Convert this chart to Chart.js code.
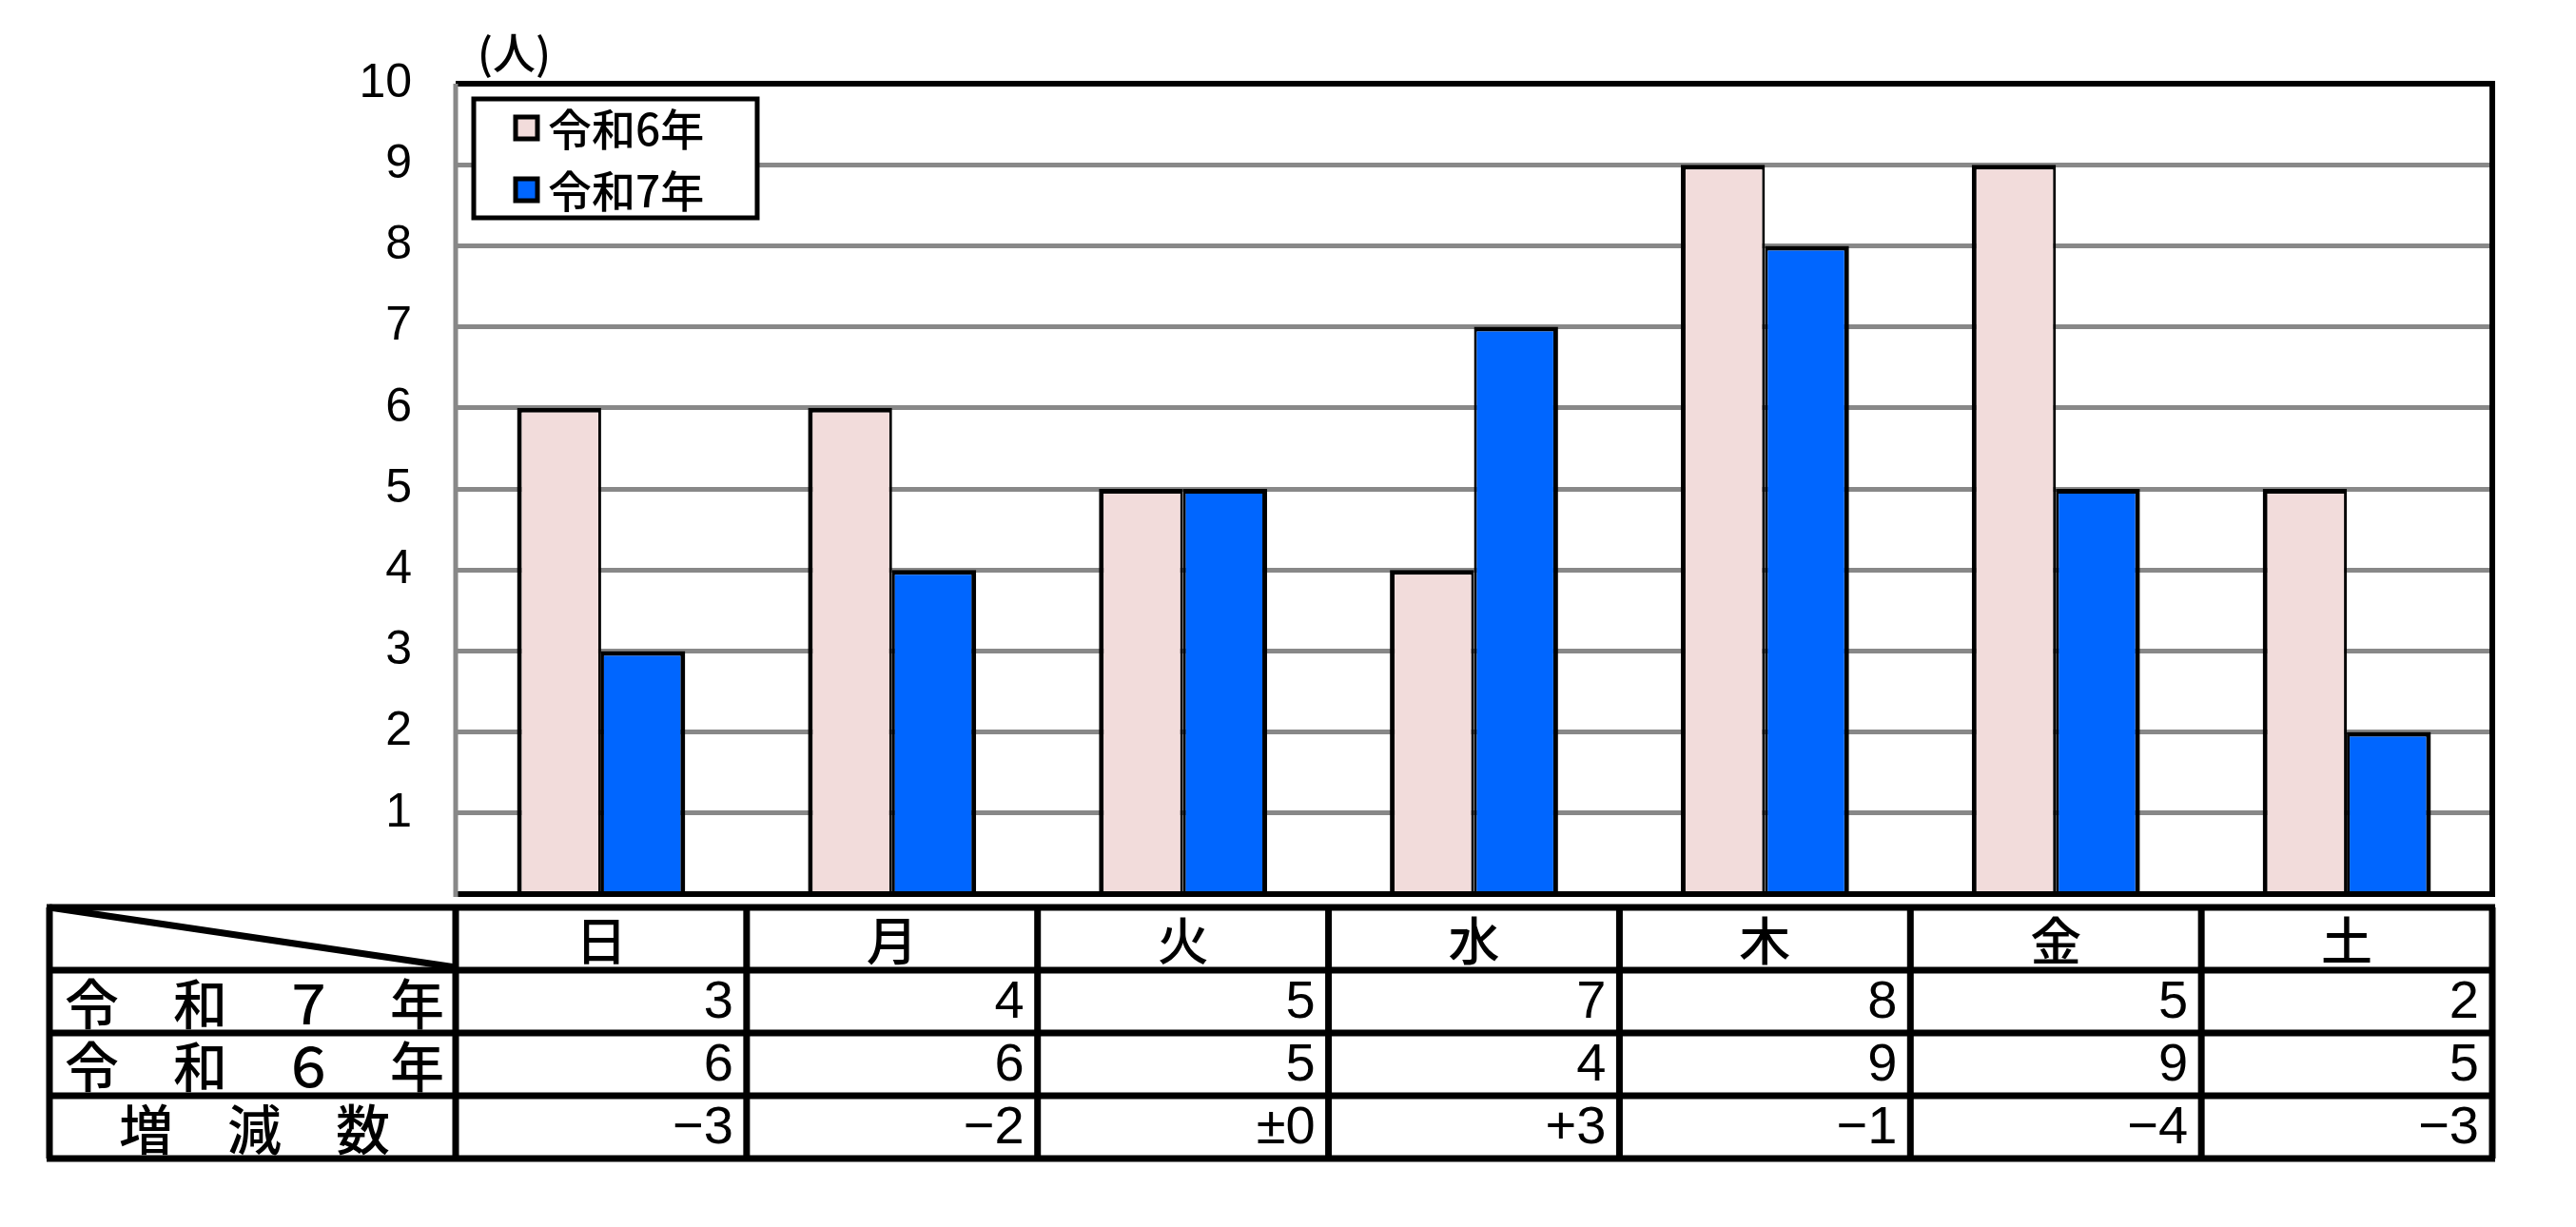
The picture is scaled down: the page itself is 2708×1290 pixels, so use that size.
<!DOCTYPE html>
<html lang="ja">
<head>
<meta charset="UTF-8">
<title>曜日別</title>
<script src="https://cdn.jsdelivr.net/npm/chart.js@4.4.1/dist/chart.umd.min.js"></script>
<style>
  html, body { margin: 0; padding: 0; background: #fff; }
  canvas { display: block; }
</style>
</head>
<body>
<canvas id="chart" width="2708" height="1290"></canvas>
<script>
//DATOS DEL GRAFICO
const dias = ["日", "月", "火", "水", "木", "金", "土"];
const valoresR6 = [6, 6, 5, 4, 9, 9, 5];
const valoresR7 = [3, 4, 5, 7, 8, 5, 2];
const diferencias = ["−3", "−2", "±0", "+3", "−1", "−4", "−3"];
const nombreR6 = "令和6年";
const nombreR7 = "令和7年";
const filasTabla = ["令　和　７　年", "令　和　６　年", "増　減　数"];
const unidad = "(人)";

const colorR6 = "#F2DCDB";
const colorR7 = "#0066FF";
const fuenteJp = "'Noto Sans CJK JP', sans-serif";
const fuenteNum = "'Liberation Sans', Arial, sans-serif";

//FILAS DE LA TABLA (posicion vertical)
const tablaIzq = 52;
const filasY = [954, 1020, 1086, 1152, 1218];

//MARCO DEL AREA DEL GRAFICO
const marcoPlugin = {
    id: "marco",
    afterDatasetsDraw(chart) {
        const ctx = chart.ctx;
        const a = chart.chartArea;
        ctx.save();
        ctx.strokeStyle = "#000";
        ctx.lineWidth = 6;
        ctx.beginPath();
        ctx.moveTo(a.left, a.top);
        ctx.lineTo(a.right, a.top);
        ctx.lineTo(a.right, a.bottom);
        ctx.lineTo(a.left, a.bottom);
        ctx.stroke();
        ctx.strokeStyle = "#888";
        ctx.lineWidth = 5;
        ctx.beginPath();
        ctx.moveTo(a.left, a.top);
        ctx.lineTo(a.left, a.bottom + 3);
        ctx.stroke();
        ctx.restore();
    }
};

//LEYENDA, UNIDAD Y TABLA
const tablaPlugin = {
    id: "tabla",
    afterDraw(chart) {
        const ctx = chart.ctx;
        const escalaX = chart.scales.x;
        const a = chart.chartArea;
        const anchoCat = (a.right - a.left) / dias.length;

        ctx.save();

        //unidad
        ctx.fillStyle = "#000";
        ctx.font = "500 45px " + fuenteJp;
        ctx.textAlign = "left";
        ctx.textBaseline = "middle";
        ctx.fillText(unidad, 502, 56);

        //leyenda
        ctx.fillStyle = "#fff";
        ctx.fillRect(496, 102, 302, 129);
        ctx.strokeStyle = "#000";
        ctx.lineWidth = 5;
        ctx.strokeRect(498, 104, 298, 125);
        const items = chart.data.datasets;
        items.forEach((ds, i) => {
            const cy = 134 + i * 65;
            ctx.fillStyle = ds.backgroundColor;
            ctx.fillRect(542, cy - 11, 23, 23);
            ctx.lineWidth = 5;
            ctx.strokeStyle = "#000";
            ctx.strokeRect(542, cy - 11, 23, 23);
            ctx.fillStyle = "#000";
            ctx.font = "500 46px " + fuenteJp;
            ctx.textAlign = "left";
            ctx.textBaseline = "middle";
            ctx.fillText(ds.label, 576, cy + 2);
        });

        //tabla: lineas
        const bordes = [tablaIzq];
        for (let i = 0; i <= dias.length; i++) {
            bordes.push(a.left + i * anchoCat);
        }
        const derecha = bordes[bordes.length - 1];
        ctx.strokeStyle = "#000";
        ctx.lineWidth = 7;
        filasY.forEach((y) => {
            ctx.beginPath();
            ctx.moveTo(tablaIzq - 3, y);
            ctx.lineTo(derecha + 3, y);
            ctx.stroke();
        });
        bordes.forEach((x) => {
            ctx.beginPath();
            ctx.moveTo(x, filasY[0]);
            ctx.lineTo(x, filasY[filasY.length - 1]);
            ctx.stroke();
        });

        //diagonal
        ctx.lineWidth = 7;
        ctx.beginPath();
        ctx.moveTo(tablaIzq, filasY[0]);
        ctx.lineTo(bordes[1], filasY[1] - 3);
        ctx.stroke();

        //encabezado
        ctx.fillStyle = "#000";
        ctx.font = "500 54px " + fuenteJp;
        ctx.textAlign = "center";
        ctx.textBaseline = "middle";
        dias.forEach((d, i) => {
            ctx.fillText(d, escalaX.getPixelForValue(i), (filasY[0] + filasY[1]) / 2 + 2);
        });

        //etiquetas de filas
        ctx.font = "500 57px " + fuenteJp;
        filasTabla.forEach((t, f) => {
            ctx.fillText(t, (tablaIzq + bordes[1]) / 2 + 2, (filasY[f + 1] + filasY[f + 2]) / 2 + 2);
        });

        //valores
        const filasValores = [valoresR7.map(String), valoresR6.map(String), diferencias];
        ctx.font = "56px " + fuenteNum;
        ctx.textAlign = "right";
        filasValores.forEach((fila, f) => {
            const cy = (filasY[f + 1] + filasY[f + 2]) / 2 + 2;
            fila.forEach((v, i) => {
                ctx.fillText(v, bordes[i + 2] - 14, cy);
            });
        });

        ctx.restore();
    }
};

const config = {
    type: "bar",
    data: {
        labels: dias,
        datasets: [{
            label: nombreR6,
            data: valoresR6,
            backgroundColor: colorR6,
            borderColor: "#000",
            borderWidth: { top: 5, left: 5, right: 3, bottom: 0 }
        }, {
            label: nombreR7,
            data: valoresR7,
            backgroundColor: colorR7,
            borderColor: "#000",
            borderWidth: { top: 5, left: 3, right: 5, bottom: 0 }
        }]
    },
    options: {
        responsive: false,
        devicePixelRatio: 1,
        animation: false,
        layout: {
            padding: { left: 0, top: 88, right: 88, bottom: 350 }
        },
        datasets: {
            bar: {
                categoryPercentage: 0.578,
                barPercentage: 1
            }
        },
        plugins: {
            legend: { display: false },
            tooltip: { enabled: false }
        },
        scales: {
            x: {
                display: false
            },
            y: {
                min: 0,
                max: 10,
                afterFit(scale) {
                    scale.width = 479;
                },
                ticks: {
                    stepSize: 1,
                    padding: 46,
                    color: "#000",
                    font: { family: fuenteNum, size: 50 },
                    callback: (v) => (v === 0 ? "" : v)
                },
                grid: {
                    color: "#888",
                    lineWidth: 5,
                    drawTicks: false
                },
                border: { display: false }
            }
        }
    },
    plugins: [marcoPlugin, tablaPlugin]
};

const chartDOM = document.getElementById("chart");
const chartInstance = new Chart(chartDOM, config);
</script>
</body>
</html>
